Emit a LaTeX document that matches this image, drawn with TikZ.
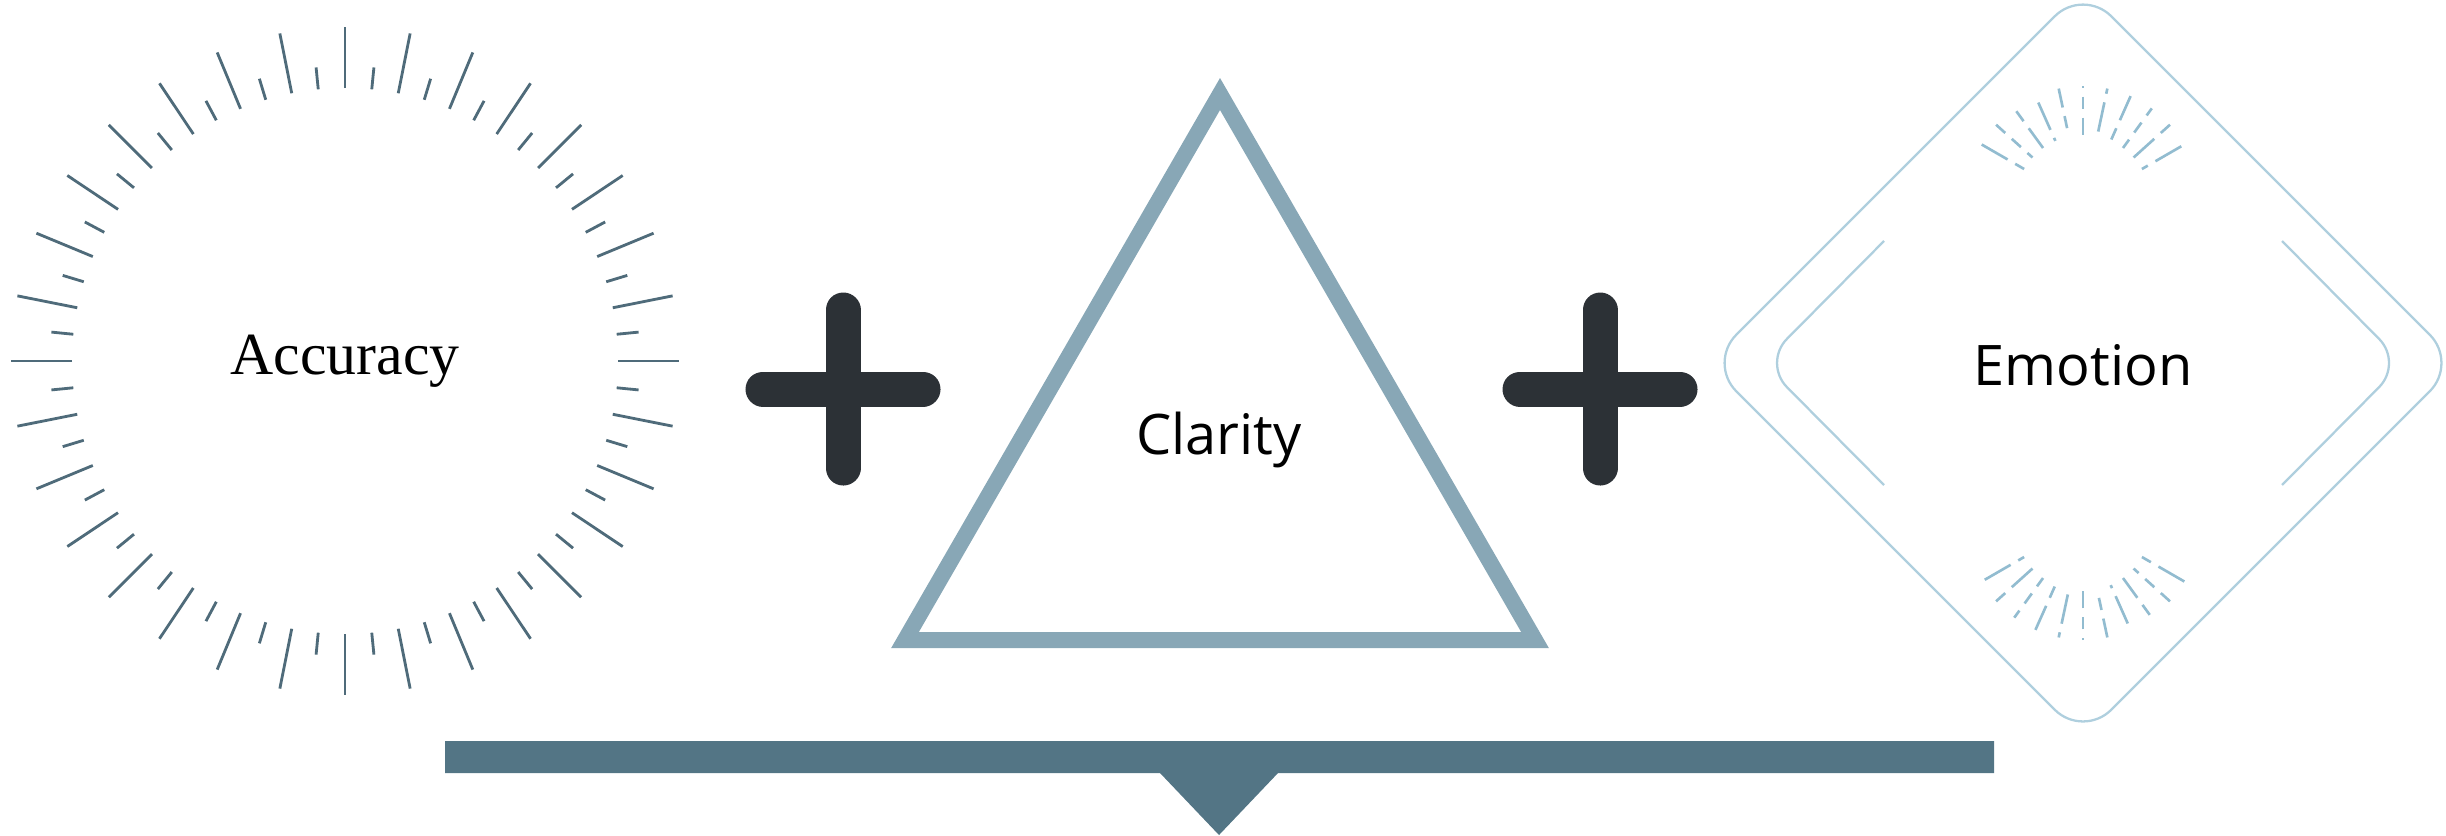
\documentclass[tikz,border=0pt]{standalone}
\usepackage{fontspec}
\newfontfamily\opensans{Open Sans}
\newfontfamily\seriffont{Liberation Serif}
\usetikzlibrary{calc}
\definecolor{tickc}{HTML}{4F6B7A}
\definecolor{plusc}{HTML}{2C3136}
\definecolor{tric}{HTML}{88A7B6}
\definecolor{barc}{HTML}{537585}
\definecolor{diac}{HTML}{AFCFDE}
\definecolor{rayc}{HTML}{92BCD0}
\begin{document}
\begin{tikzpicture}[x=0.01cm,y=-0.01cm,
  tick/.style={draw=tickc, line width=0.8pt},
  plusbar/.style={draw=plusc, line width=9.96pt, line cap=round},
  diam/.style={draw=diac, line width=0.65pt},
  ray/.style={draw=rayc, line width=0.75pt, dash pattern=on 8.5pt off 2.5pt on 3.5pt off 2.5pt},
  lbl/.style={inner sep=0pt, text=black}]
\useasboundingbox (0,0) rectangle (2446,835);

% ---- Accuracy ring ----
\foreach \k in {0,...,63}{
  \pgfmathsetmacro\a{\k*5.625}
  \pgfmathsetmacro\ro{ifthenelse(mod(\k,2)==0,334,295)}
  \draw[tick, shift={(345,361)}] (\a:273) -- (\a:\ro);
}
\node[lbl, font=\seriffont\fontsize{17}{20}\selectfont] (acc) at (345,361) {Accuracy};

% ---- plus signs ----
\coordinate (p1) at (843,389);
\coordinate (p2) at (1600,389);
\foreach \p in {p1,p2}{
  \draw[plusbar] ($(\p)+(-80,0)$) -- ($(\p)+(80,0)$);
  \draw[plusbar] ($(\p)+(0,-79)$) -- ($(\p)+(0,79)$);
}

% ---- Clarity triangle ----
\draw[draw=tric, line width=4.55pt, line join=miter] (1220,94) -- (905,640) -- (1535,640) -- cycle;
\node[lbl, font=\opensans\fontsize{15.9}{19}\selectfont] (cla) at (1219,440) {Clarity};

% ---- Emotion diamond ----
\draw[diam, rounded corners=4mm] (1708,363) -- (2083,-12) -- (2458,363) -- (2083,738) -- cycle;
\draw[diam, rounded corners=3.4mm] (1884,241) -- (1763,363) -- (1884,485);
\draw[diam, rounded corners=3.4mm] (2282,241) -- (2403,363) -- (2282,485);
\foreach \i in {0,...,10}{
  \pgfmathsetmacro\at{210+\i*12}
  \pgfmathsetmacro\ab{30+\i*12}
  \pgfmathsetmacro\ph{mod(\i*5,17)}
  \draw[ray, dash phase=\ph pt, shift={(2083,203)}] (\at:117) -- (\at:68);
  \draw[ray, dash phase=\ph pt, shift={(2083,523)}] (\ab:117) -- (\ab:68);
}
\node[lbl, font=\opensans\fontsize{15.9}{19}\selectfont] (emo) at (2083,365) {Emotion};

% ---- bottom bar with pointer ----
\fill[barc] (445,741) -- (1994,741) -- (1994,773) -- (1278,773) -- (1219,835) -- (1160,773) -- (445,773) -- cycle;
\end{tikzpicture}
\end{document}
